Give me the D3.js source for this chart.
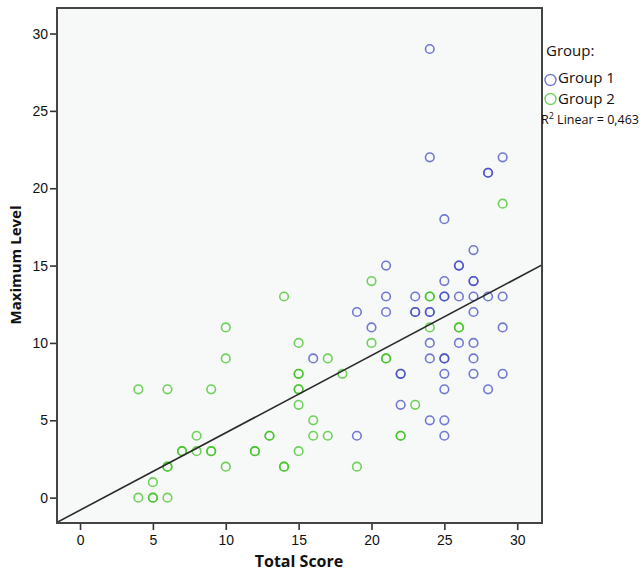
<!DOCTYPE html>
<html>
<head>
<meta charset="utf-8">
<script src="https://cdn.jsdelivr.net/npm/d3@7"></script>
<style>
  html, body { margin: 0; padding: 0; background: #ffffff; }
  svg { display: block; }
</style>
</head>
<body>
<svg id="chart" width="642" height="574"></svg>
<script>
// ---- Data ----
const group1Score = [24,24,29,28,28,25,27,21,26,26,25,27,27,21,23,25,25,26,27,28,29,19,21,23,23,24,24,27,20,29,24,26,27,16,24,25,25,27,22,22,25,27,29,25,28,22,24,25,19,25];
const group1Level = [29,22,22,21,21,18,16,15,15,15,14,14,14,13,13,13,13,13,13,13,13,12,12,12,12,12,12,12,11,11,10,10,10,9,9,9,9,9,8,8,8,8,8,7,7,6,5,5,4,4];
const group2Score = [29,20,14,24,24,10,24,26,26,15,20,10,17,21,21,15,15,18,4,6,9,15,15,15,23,16,8,13,13,16,17,22,22,7,7,8,9,9,12,12,15,6,6,10,14,14,19,5,4,5,5,6];
const group2Level = [19,14,13,13,13,11,11,11,11,10,10,9,9,9,9,8,8,8,7,7,7,7,7,6,6,5,4,4,4,4,4,4,4,3,3,3,3,3,3,3,3,2,2,2,2,2,2,1,0,0,0,0];
const groupNames = ["Group 1", "Group 2"];
const xTicks = [0, 5, 10, 15, 20, 25, 30];
const yTicks = [0, 5, 10, 15, 20, 25, 30];
const fitIntercept = -0.81;
const fitSlope = 0.50;
const r2Label = "0,463";

// ---- Layout ----
const svg = d3.select("#chart");
const L = 57, R = 542, T = 8, B = 523;
const x = d3.scaleLinear().domain([-1.58, 31.7]).range([L, R]);
const y = d3.scaleLinear().domain([-1.64, 31.65]).range([B, T]);
const colors = ["#3f48c4", "#3cc21f"];
const opac = 0.72;

// plot background
svg.append("rect").attr("x", L).attr("y", T).attr("width", R - L).attr("height", B - T)
  .attr("fill", "#f7f8f8");

// clip
svg.append("clipPath").attr("id", "clip").append("rect")
  .attr("x", L).attr("y", T).attr("width", R - L).attr("height", B - T);

// axes
const xAxis = svg.append("g").attr("transform", `translate(0,${B})`)
  .call(d3.axisBottom(x).tickValues(xTicks).tickSize(7).tickPadding(5).tickFormat(d3.format("d")));
const yAxis = svg.append("g").attr("transform", `translate(${L},0)`)
  .call(d3.axisLeft(y).tickValues(yTicks).tickSize(7).tickPadding(2).tickFormat(d3.format("d")));
[xAxis, yAxis].forEach(g => {
  g.select(".domain").remove();
  g.selectAll(".tick line").attr("stroke", "#333").attr("stroke-width", 1.6);
  g.selectAll(".tick text").attr("fill", "#111")
    .style("font-family", "'Liberation Sans', Arial, sans-serif").style("font-size", "14px");
});

// points
const g1 = group1Score.map((s, i) => ({ s, l: group1Level[i], g: 0 }));
const g2 = group2Score.map((s, i) => ({ s, l: group2Level[i], g: 1 }));
const pts = svg.append("g").attr("clip-path", "url(#clip)");
pts.selectAll("circle").data(g1.concat(g2)).join("circle")
  .attr("cx", d => x(d.s)).attr("cy", d => y(d.l)).attr("r", 4.3)
  .attr("fill", "none").attr("stroke", d => colors[d.g])
  .attr("stroke-width", 1.6).attr("stroke-opacity", opac);

// fit line
const xd = x.domain();
svg.append("line").attr("clip-path", "url(#clip)")
  .attr("x1", x(xd[0])).attr("y1", y(fitIntercept + fitSlope * xd[0]))
  .attr("x2", x(xd[1])).attr("y2", y(fitIntercept + fitSlope * xd[1]))
  .attr("stroke", "#2a2a2a").attr("stroke-width", 1.6);

// frame
svg.append("rect").attr("x", L).attr("y", T).attr("width", R - L).attr("height", B - T)
  .attr("fill", "none").attr("stroke", "#444").attr("stroke-width", 2);

// axis titles
svg.append("text").attr("x", 299).attr("y", 567).attr("text-anchor", "middle")
  .style("font-family", "'Open Sans', sans-serif").style("font-weight", "bold").style("font-size", "16px")
  .attr("fill", "#111").text("Total Score");
svg.append("text").attr("transform", "translate(21,265) rotate(-90)").attr("text-anchor", "middle")
  .style("font-family", "'Open Sans', sans-serif").style("font-weight", "bold").style("font-size", "15px")
  .attr("fill", "#111").text("Maximum Level");

// legend
const lg = svg.append("g").style("font-family", "'Open Sans', sans-serif").attr("fill", "#111");
lg.append("text").attr("x", 546).attr("y", 56).style("font-size", "15px").text("Group:");
groupNames.forEach((n, i) => {
  const cy = 80 + i * 19;
  lg.append("circle").attr("cx", 550.5).attr("cy", cy).attr("r", 5.5)
    .attr("fill", "none").attr("stroke", colors[i]).attr("stroke-width", 1.4).attr("stroke-opacity", opac);
  lg.append("text").attr("x", 558).attr("y", cy + 3 + (i === 1 ? 2 : 0)).style("font-size", "15px").text(n);
});
const rt = lg.append("text").attr("x", 541).attr("y", 124).style("font-size", "12.5px");
rt.append("tspan").text("R");
rt.append("tspan").attr("dy", -5).style("font-size", "9px").text("2");
rt.append("tspan").attr("dy", 5).text(" Linear = " + r2Label);
</script>
</body>
</html>
